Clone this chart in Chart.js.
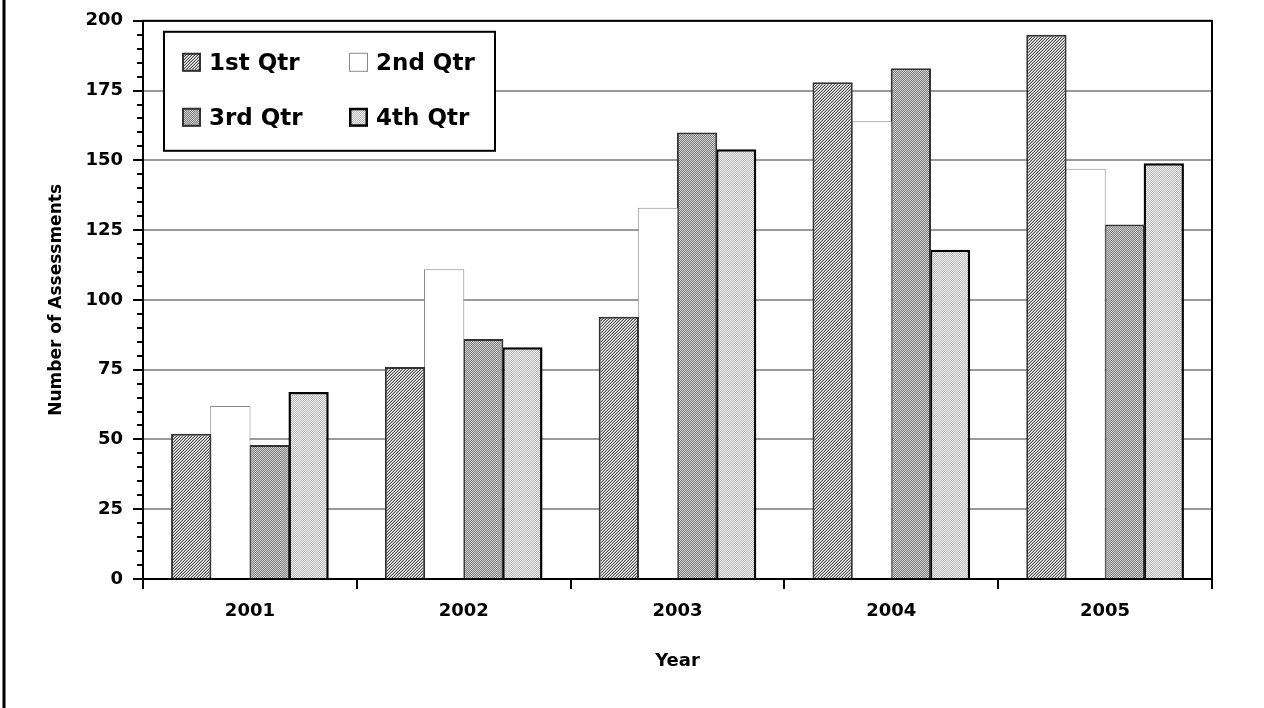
<!DOCTYPE html>
<html>
<head>
<meta charset="utf-8">
<script src="https://cdn.jsdelivr.net/npm/chart.js@4/dist/chart.umd.min.js"></script>
<style>
  html, body { margin: 0; padding: 0; background: #fff; }
  canvas { display: block; }
</style>
</head>
<body>
<canvas id="c" width="1264" height="708"></canvas>
<script>
// Assessments per quarter, by year
const years = ['2001', '2002', '2003', '2004', '2005'];
const quarters = ['1st Qtr', '2nd Qtr', '3rd Qtr', '4th Qtr'];
const q1 = [52, 76, 94, 178, 195];
const q2 = [62, 111, 133, 164, 147];
const q3 = [48, 86, 160, 183, 127];
const q4 = [67, 83, 154, 118, 149];
const yTickValues = [0, 25, 50, 75, 100, 125, 150, 175, 200];
const yMinorStep = 5;

const FONT = '"DejaVu Sans", "Liberation Sans", Arial, sans-serif';
const canvas = document.getElementById('c');
const ctx = canvas.getContext('2d');

// small repeating tiles for the bar fills
function makePattern(size, pick) {
  const t = document.createElement('canvas');
  t.width = t.height = size;
  const g = t.getContext('2d');
  for (let y = 0; y < size; y++) {
    for (let x = 0; x < size; x++) {
      g.fillStyle = pick(x, y);
      g.fillRect(x, y, 1, 1);
    }
  }
  return ctx.createPattern(t, 'repeat');
}

const hatchShades = ['#4a4a4a', '#ffffff', '#b4b4b4'];
const hatch = makePattern(3, (x, y) => hatchShades[(x + y) % 3]);
const darkDots = makePattern(2, (x, y) => ((x + y) % 2 === 0 ? '#cfcfcf' : '#808080'));
const lightDots = makePattern(2, (x, y) => ((x + y) % 2 === 0 ? '#f0f0f0' : '#b8b8b8'));

const seriesValues = [q1, q2, q3, q4];
const fills = [hatch, '#ffffff', darkDots, lightDots];
const strokes = ['#333333', '#8a8a8a', '#333333', '#000000'];
const strokeWidths = [2, 1, 2, 2.5];

const datasets = quarters.map((q, i) => ({
  label: q,
  data: seriesValues[i],
  backgroundColor: fills[i],
  borderColor: strokes[i],
  borderWidth: strokeWidths[i],
  borderSkipped: 'bottom',
  categoryPercentage: 0.732,
  barPercentage: 1.03
}));

// frame, minor ticks and the boxed legend
const decorations = {
  id: 'decorations',
  beforeDraw(chart) {
    const c = chart.ctx;
    c.save();
    c.strokeStyle = '#000';
    c.lineWidth = 3;
    c.beginPath();
    c.moveTo(4, 0);
    c.lineTo(4, chart.height);
    c.stroke();
    c.restore();
  },
  afterDatasetsDraw(chart) {
    const c = chart.ctx;
    const a = chart.chartArea;
    const y = chart.scales.y;
    c.save();
    // minor ticks on the value axis
    c.strokeStyle = '#000';
    c.lineWidth = 2;
    for (let v = y.min; v <= y.max; v += yMinorStep) {
      if (v % 25 === 0) continue;
      const py = Math.round(y.getPixelForValue(v));
      c.beginPath();
      c.moveTo(a.left - 6, py);
      c.lineTo(a.left, py);
      c.stroke();
    }
    // plot border
    c.lineWidth = 2;
    c.strokeRect(a.left, a.top, a.right - a.left, a.bottom - a.top);

    // legend
    const bx = a.left + 21, by = a.top + 11, bw = 331, bh = 119;
    c.fillStyle = '#fff';
    c.fillRect(bx, by, bw, bh);
    c.strokeStyle = '#000';
    c.lineWidth = 2;
    c.strokeRect(bx, by, bw, bh);
    c.font = 'bold 23px ' + FONT;
    c.textBaseline = 'middle';
    c.textAlign = 'left';
    chart.data.datasets.forEach((ds, i) => {
      const col = i % 2, row = Math.floor(i / 2);
      const sx = bx + 18 + col * 167;
      const sy = by + 21 + row * 55;
      c.fillStyle = ds.backgroundColor;
      c.fillRect(sx, sy, 19, 19);
      c.strokeStyle = ds.borderColor;
      c.lineWidth = ds.borderWidth;
      c.strokeRect(sx + ds.borderWidth / 2, sy + ds.borderWidth / 2, 19 - ds.borderWidth, 19 - ds.borderWidth);
      c.fillStyle = '#000';
      c.fillText(ds.label, sx + 27, sy + 11);
    });
    c.restore();
  }
};

new Chart(canvas, {
  type: 'bar',
  data: { labels: years, datasets },
  plugins: [decorations],
  options: {
    responsive: false,
    animation: false,
    events: [],
    layout: { padding: { top: 20, right: 52, left: 0, bottom: 0 } },
    plugins: { legend: { display: false }, tooltip: { enabled: false } },
    scales: {
      x: {
        grid: { offset: true, drawOnChartArea: false, color: '#000', lineWidth: 2, tickLength: 10 },
        border: { display: true, color: '#000', width: 2 },
        ticks: { color: '#000', padding: 12, font: { family: FONT, size: 18, weight: 'bold' } },
        title: {
          display: true, text: 'Year', color: '#000',
          font: { family: FONT, size: 18, weight: 'bold' },
          padding: { top: 0, bottom: 36 }
        },
        afterFit(s) { s.height = 129; }
      },
      y: {
        min: 0, max: 200,
        afterBuildTicks(s) { s.ticks = yTickValues.map(v => ({ value: v })); },
        grid: { color: '#9a9a9a', lineWidth: 2, tickColor: '#000', tickLength: 10 },
        border: { display: true, color: '#000', width: 2 },
        ticks: { color: '#000', padding: 10, font: { family: FONT, size: 18, weight: 'bold' } },
        title: {
          display: true, text: 'Number of Assessments', color: '#000',
          font: { family: FONT, size: 17, weight: 'bold' },
          padding: { top: 46, bottom: 0 }
        },
        afterFit(s) { s.width = 143; }
      }
    }
  }
});
</script>
</body>
</html>
